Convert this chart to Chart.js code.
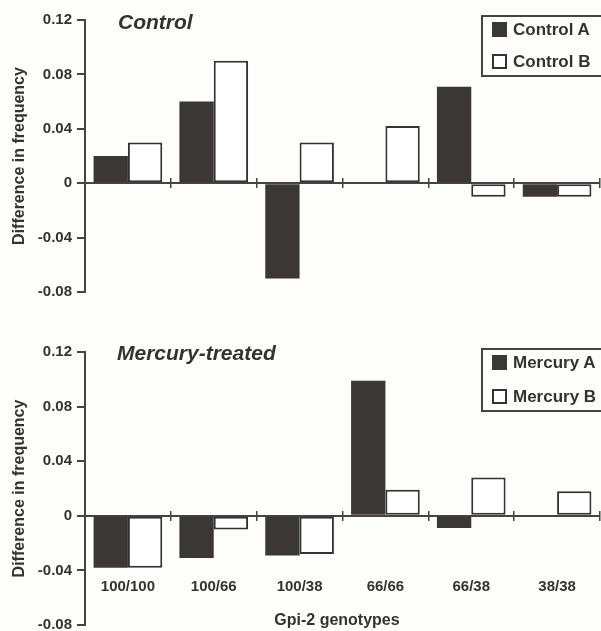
<!DOCTYPE html>
<html>
<head>
<meta charset="utf-8">
<script src="https://cdn.jsdelivr.net/npm/chart.js@4.4.1/dist/chart.umd.min.js"></script>
<style>
body { margin: 0; background: #fdfdfb; width: 601px; height: 631px; overflow: hidden; position: relative; font-family: "Liberation Sans", Arial, sans-serif; color: #333; }
canvas { position: absolute; left: 0; }
#topChart { top: 0; }
#bottomChart { top: 315px; }
.panel-title { position: absolute; font-weight: bold; font-style: italic; font-size: 21px; line-height: 24px; }
.axis-title { position: absolute; left: 237px; width: 200px; top: 610px; text-align: center; font-weight: bold; font-size: 16px; line-height: 20px; }
.legend { position: absolute; left: 481px; width: 130px; border: 2px solid #444; box-sizing: border-box; font-weight: bold; font-size: 17px; }
.legend .item { position: absolute; left: 9px; height: 20px; line-height: 20px; white-space: nowrap; }
.sw { display: inline-block; width: 15px; height: 15px; box-sizing: border-box; border: 2px solid #333; vertical-align: -2px; margin-right: 6px; }
.sw.dark { background: #3b3737; border-color: #3b3737; }
.sw.light { background: #fff; }
</style>
</head>
<body>
<canvas id="topChart" width="601" height="315"></canvas>
<canvas id="bottomChart" width="601" height="316"></canvas>

<div class="panel-title" style="left:118px; top:10px;">Control</div>
<div class="panel-title" style="left:117px; top:341px;">Mercury-treated</div>
<div class="axis-title">Gpi-2 genotypes</div>

<div class="legend" style="top:15px; height:62px;">
  <div class="item" style="top:3px;"><span class="sw dark"></span>Control A</div>
  <div class="item" style="top:35px;"><span class="sw light"></span>Control B</div>
</div>
<div class="legend" style="top:348px; height:64px;">
  <div class="item" style="top:3px;"><span class="sw dark"></span>Mercury A</div>
  <div class="item" style="top:37px;"><span class="sw light"></span>Mercury B</div>
</div>

<script>
const genotypes = ['100/100', '100/66', '100/38', '66/66', '66/38', '38/38'];
const controlA = [0.02, 0.06, -0.07, 0, 0.071, -0.01];
const controlB = [0.03, 0.09, 0.03, 0.042, -0.01, -0.01];
const mercuryA = [-0.038, -0.031, -0.029, 0.099, -0.009, 0];
const mercuryB = [-0.038, -0.01, -0.028, 0.019, 0.028, 0.018];
const yTicks = [-0.08, -0.04, 0, 0.04, 0.08, 0.12];

const ink = '#3b3737';
const lineCol = '#444';
const tickFont = { family: '"Liberation Sans", Arial, sans-serif', size: 15, weight: 'bold' };

// lift the category axis a few pixels so its tick marks cross the zero line
const tickRise = 0.0037;

function makeChart(id, nameA, dataA, nameB, dataB, showCategories, padding) {
    const ctx = document.getElementById(id).getContext('2d');
    return new Chart(ctx, {
        type: 'bar',
        data: {
            labels: genotypes,
            datasets: [{
                label: nameA,
                data: dataA,
                backgroundColor: ink,
                borderWidth: 0
            }, {
                label: nameB,
                data: dataB,
                backgroundColor: '#ffffff',
                borderColor: '#333',
                borderWidth: 2,
                borderSkipped: false
            }]
        },
        options: {
            responsive: false,
            animation: false,
            categoryPercentage: 0.8,
            barPercentage: 1.0,
            layout: { padding: padding },
            plugins: {
                legend: { display: false },
                tooltip: { enabled: false }
            },
            scales: {
                x: {
                    position: { y: tickRise },
                    afterFit: scale => { scale.paddingLeft = 0; scale.paddingRight = 0; },
                    border: { display: false },
                    grid: {
                        drawOnChartArea: false,
                        drawTicks: true,
                        tickLength: 10,
                        color: lineCol,
                        lineWidth: 1.5
                    },
                    ticks: {
                        display: showCategories,
                        padding: 57,
                        color: '#333',
                        font: tickFont,
                        maxRotation: 0
                    }
                },
                y: {
                    min: -0.08,
                    max: 0.12,
                    afterFit: scale => {
                        scale.width = 85;
                        scale.paddingTop = 0;
                        scale.paddingBottom = 0;
                    },
                    afterBuildTicks: scale => { scale.ticks = yTicks.map(v => ({ value: v })); },
                    border: { display: true, color: lineCol, width: 2 },
                    grid: {
                        color: c => (c.tick && c.tick.value === 0) ? lineCol : 'rgba(0,0,0,0)',
                        tickColor: lineCol,
                        lineWidth: 2,
                        tickLength: 8
                    },
                    ticks: {
                        color: '#333',
                        font: tickFont,
                        padding: 5,
                        callback: v => v === 0 ? '0' : v.toFixed(2)
                    },
                    title: {
                        display: true,
                        text: 'Difference in frequency',
                        color: '#333',
                        font: { family: tickFont.family, size: 16, weight: 'bold' },
                        padding: { top: 10, bottom: 0 }
                    }
                }
            }
        }
    });
}

makeChart('topChart', 'Control A', controlA, 'Control B', controlB, false,
    { left: 0, right: 1, top: 20, bottom: 23 });
makeChart('bottomChart', 'Mercury A', mercuryA, 'Mercury B', mercuryB, true,
    { left: 0, right: 1, top: 37, bottom: 6 });
</script>
</body>
</html>
